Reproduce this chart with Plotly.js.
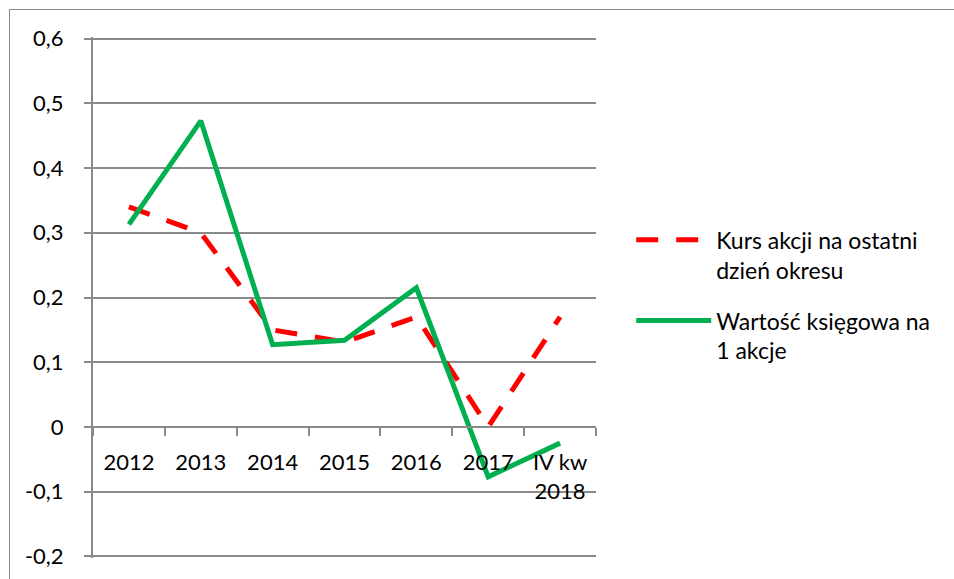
<!DOCTYPE html>
<html>
<head>
<meta charset="utf-8">
<script src="https://cdn.plot.ly/plotly-3.0.1.min.js"></script>
<style>
html,body{margin:0;padding:0;background:#fff;overflow:hidden;}
#chart{width:954px;height:579px;}
#frame{position:absolute;left:9px;top:9px;width:960px;height:600px;border-left:1px solid #898989;border-top:1px solid #898989;pointer-events:none;}
</style>
</head>
<body>
<div id="chart"></div>
<div id="frame"></div>
<script>
const categories = ["2012", "2013", "2014", "2015", "2016", "2017", "IV kw<br>2018"];
const kursAkcji = [0.34, 0.30, 0.15, 0.131, 0.17, 0.0, 0.17];
const wartoscKsiegowa = [0.313, 0.473, 0.127, 0.134, 0.215, -0.077, -0.025];
const yTickVals = [-0.2, -0.1, 0, 0.1, 0.2, 0.3, 0.4, 0.5, 0.6];
const yTickText = ["-0,2", "-0,1", "0", "0,1", "0,2", "0,3", "0,4", "0,5", "0,6"];
const seriesNames = ["Kurs akcji na ostatni<br>dzień okresu", "Wartość księgowa na<br>1 akcje"];

const font = {family: "Lato, 'Open Sans', sans-serif", size: 22, color: "#000"};
const legendFont = {family: "Lato, 'Open Sans', sans-serif", size: 23, color: "#000"};

// small padding so the end gridlines (0,6 and -0,2) are not clipped
const yPad = 0.0025;
const yRange = [yTickVals[0] - yPad, yTickVals[yTickVals.length - 1] + yPad];
const zeroPos = (0 - yRange[0]) / (yRange[1] - yRange[0]);

const traces = [
  {x: categories, y: kursAkcji, name: seriesNames[0], legendgroup: "a", type: "scatter", mode: "lines",
   xaxis: "x", yaxis: "y",
   line: {color: "#FF0000", width: 5, dash: "22px,18px"}},
  {x: categories, y: wartoscKsiegowa, name: seriesNames[1], legendgroup: "b", type: "scatter", mode: "lines",
   xaxis: "x2", yaxis: "y",
   line: {color: "#00B050", width: 5}}
];

const layout = {
  width: 954, height: 579,
  margin: {l: 93, r: 358, t: 37, b: 21},
  paper_bgcolor: "#fff", plot_bgcolor: "#fff",
  font: font,
  showlegend: true,
  legend: {x: 1.07, y: 0.652, xanchor: "left", yanchor: "top", font: legendFont,
           valign: "top", itemwidth: 75, traceorder: "grouped", tracegroupgap: 18,
           bgcolor: "rgba(0,0,0,0)"},
  xaxis: {
    type: "category", range: [-0.5, 6.5],
    showgrid: false, showline: false, zeroline: false,
    ticks: "", showticklabels: false, fixedrange: true
  },
  xaxis2: {
    type: "category", range: [-0.5, 6.5], overlaying: "x", anchor: "free", position: zeroPos,
    side: "bottom",
    showgrid: false, showline: true, linecolor: "#8a8a8a", linewidth: 2, zeroline: false,
    ticks: "outside", tickson: "boundaries", ticklen: 8, tickcolor: "#8a8a8a", tickwidth: 2,
    ticklabelstandoff: 16, fixedrange: true, tickfont: font
  },
  yaxis: {
    range: yRange, tickvals: yTickVals, ticktext: yTickText,
    showgrid: true, gridcolor: "#8a8a8a", gridwidth: 2,
    zeroline: false, showline: true, linecolor: "#8a8a8a", linewidth: 2,
    ticks: "outside", ticklen: 7, tickcolor: "#8a8a8a", tickwidth: 2,
    ticklabelstandoff: 16, fixedrange: true, tickfont: font
  }
};

Plotly.newPlot("chart", traces, layout, {displayModeBar: false, staticPlot: true});
</script>
</body>
</html>
